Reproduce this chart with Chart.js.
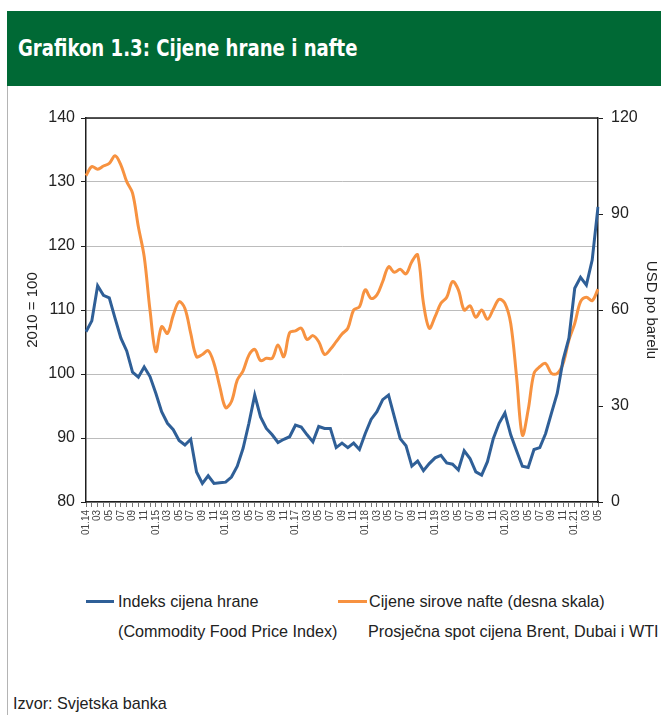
<!DOCTYPE html>
<html>
<head>
<meta charset="utf-8">
<script src="https://cdn.jsdelivr.net/npm/chart.js@4"></script>
<style>
  html, body { margin: 0; padding: 0; background: #fff; }
  #page { position: relative; width: 661px; height: 715px; overflow: hidden; background: #fff; font-family: 'Liberation Sans', Arial, sans-serif; color: #222; }
  #header { position: absolute; left: 7px; top: 11px; width: 654px; height: 75px; background: #006935; }
  #header span { position: absolute; left: 11px; top: 50%; transform-origin: 0 50%; transform: translateY(-52%) scaleX(0.875); color: #fff; font-family: 'Liberation Sans Narrow', 'DejaVu Sans Condensed', 'Liberation Sans', sans-serif; font-stretch: condensed; font-weight: bold; font-size: 23px; white-space: nowrap; }
  #leftrule { position: absolute; left: 7px; top: 86px; width: 1px; height: 629px; background: #b4b4b4; }
  #c { position: absolute; left: 0; top: 90px; }
  .lg { position: absolute; font-size: 16.2px; line-height: 18px; white-space: nowrap; color: #222; }
  .sw { position: absolute; height: 3px; }
</style>
</head>
<body>
<div id="page">
  <div id="header"><span>Grafikon 1.3: Cijene hrane i nafte</span></div>
  <div id="leftrule"></div>
  <canvas id="c" width="661" height="480"></canvas>
  <div class="sw" style="left:86px; top:600px; width:28px; background:#2f5f97;"></div>
  <div class="lg" style="left:118px; top:592px;">Indeks cijena hrane</div>
  <div class="lg" style="left:118px; top:622px;">(Commodity Food Price Index)</div>
  <div class="sw" style="left:338px; top:600px; width:29px; background:#f79240;"></div>
  <div class="lg" style="left:369px; top:592px;">Cijene sirove nafte (desna skala)</div>
  <div class="lg" style="left:368px; top:622px;">Prosječna spot cijena Brent, Dubai i WTI</div>
  <div class="lg" style="left:13px; top:694px;">Izvor: Svjetska banka</div>
</div>
<script>
// ---- data (monthly, 01.2014 - 05.2021) ----
const years = ['14', '15', '16', '17', '18', '19', '20', '21'];
const monthCodes = ['01', '02', '03', '04', '05', '06', '07', '08', '09', '10', '11', '12'];

const foodIndex = [
  106.6, 108.3, 113.8, 112.3, 111.9, 108.7, 105.6, 103.6, 100.3, 99.5,
  101.1, 99.6, 97.0, 94.1, 92.3, 91.3, 89.6, 88.9, 89.8, 84.7,
  82.9, 84.1, 82.9, 83.0, 83.1, 83.9, 85.6, 88.4, 92.3, 96.7,
  93.3, 91.5, 90.5, 89.3, 89.8, 90.2, 92.0, 91.7, 90.5, 89.4,
  91.8, 91.5, 91.5, 88.5, 89.2, 88.5, 89.2, 88.2, 90.7, 92.9,
  94.1, 96.0, 96.7, 93.3, 89.9, 88.8, 85.6, 86.4, 84.9, 86.0,
  86.9, 87.3, 86.1, 85.9, 85.0, 88.0, 86.8, 84.7, 84.2, 86.3,
  89.9, 92.3, 93.9, 90.5, 88.0, 85.6, 85.4, 88.2, 88.5, 90.7,
  93.9, 97.0, 102.2, 105.6, 113.4, 115.1, 113.9, 117.8, 126.1
];

const oilPrice = [
  102.0, 104.8, 104.0, 105.0, 105.8, 108.2, 105.3, 100.1, 96.5, 86.0,
  76.7, 60.0, 47.0, 54.8, 52.7, 58.4, 62.6, 60.5, 52.7, 45.4,
  46.1, 47.3, 43.3, 36.0, 29.5, 31.4, 38.1, 41.0, 45.9, 47.7,
  44.2, 44.9, 44.9, 49.1, 45.4, 52.9, 53.5, 54.3, 50.8, 52.0,
  50.1, 46.1, 47.7, 50.1, 52.5, 54.3, 60.0, 61.0, 66.3, 63.6,
  64.7, 68.9, 73.5, 71.8, 72.7, 71.3, 75.1, 77.2, 62.1, 54.3,
  57.9, 62.1, 64.0, 68.9, 66.3, 60.0, 61.3, 57.7, 60.0, 57.1,
  60.2, 63.3, 62.1, 55.8, 39.2, 20.9, 28.8, 40.2, 42.3, 43.3,
  40.2, 40.2, 43.3, 50.6, 55.8, 62.6, 64.0, 62.9, 66.5
];

// tick labels: every other month, January carries the year
const tickLabels = [];
years.forEach(y => monthCodes.forEach((m, k) => {
  if (tickLabels.length >= foodIndex.length) return;
  if (k % 2 === 0) tickLabels.push(k === 0 ? m + '.' + y : m);
  else tickLabels.push('');
}));

const BLUE = '#2f5f97';
const ORANGE = '#f79240';
const AXIS = '#1e1e1e';

const frameTop = {
  id: 'frameTop',
  afterDraw(chart) {
    const { ctx, chartArea } = chart;
    ctx.save();
    ctx.strokeStyle = AXIS;
    ctx.lineWidth = 1.5;
    ctx.beginPath();
    ctx.moveTo(chartArea.left, chartArea.top);
    ctx.lineTo(chartArea.right, chartArea.top);
    ctx.stroke();
    ctx.restore();
  }
};

new Chart(document.getElementById('c'), {
  type: 'line',
  data: {
    labels: tickLabels,
    datasets: [
      { label: 'Indeks cijena hrane', data: foodIndex, yAxisID: 'y', borderColor: BLUE, backgroundColor: BLUE,
        borderWidth: 3, pointRadius: 0, tension: 0, fill: false },
      { label: 'Cijene sirove nafte (desna skala)', data: oilPrice, yAxisID: 'y1', borderColor: ORANGE, backgroundColor: ORANGE,
        borderWidth: 3, pointRadius: 0, tension: 0.35, fill: false }
    ]
  },
  options: {
    responsive: false,
    animation: false,
    layout: { padding: { top: 28, left: 0, right: 0, bottom: 0 } },
    plugins: { legend: { display: false }, tooltip: { enabled: false }, title: { display: false } },
    scales: {
      x: {
        offset: false,
        grid: { display: true, drawOnChartArea: false, drawTicks: true, tickLength: 5, tickColor: '#777', color: '#777' },
        border: { display: true, color: AXIS, width: 1.5 },
        ticks: { autoSkip: false, maxRotation: 90, minRotation: 90, padding: 3,
                 font: { family: "'Liberation Sans', Arial, sans-serif", size: 10 }, color: '#444' },
        afterFit(s) { s.height = 68; }
      },
      y: {
        position: 'left', min: 80, max: 140,
        ticks: { stepSize: 10, padding: 6, color: '#222', font: { family: "'Liberation Sans', Arial, sans-serif", size: 16 } },
        grid: { color: '#bcbcbc', lineWidth: 1, tickColor: AXIS, tickLength: 5 },
        border: { display: true, color: AXIS, width: 1.5 },
        title: { display: true, text: '2010 = 100', color: '#222', padding: { top: 24, bottom: 0 },
                 font: { family: "'Liberation Sans', Arial, sans-serif", size: 15 } },
        afterFit(s) { s.width = 86; }
      },
      y1: {
        position: 'right', min: 0, max: 120,
        ticks: { stepSize: 30, padding: 8, color: '#222', font: { family: "'Liberation Sans', Arial, sans-serif", size: 16 } },
        grid: { drawOnChartArea: false, tickColor: AXIS, tickLength: 5 },
        border: { display: true, color: AXIS, width: 1.5 },
        title: { display: true, text: 'USD po barelu', color: '#222', padding: { top: 1, bottom: 0 },
                 font: { family: "'Liberation Sans', Arial, sans-serif", size: 15 } },
        afterFit(s) { s.width = 63; }
      }
    }
  },
  plugins: [frameTop]
});
</script>
</body>
</html>
